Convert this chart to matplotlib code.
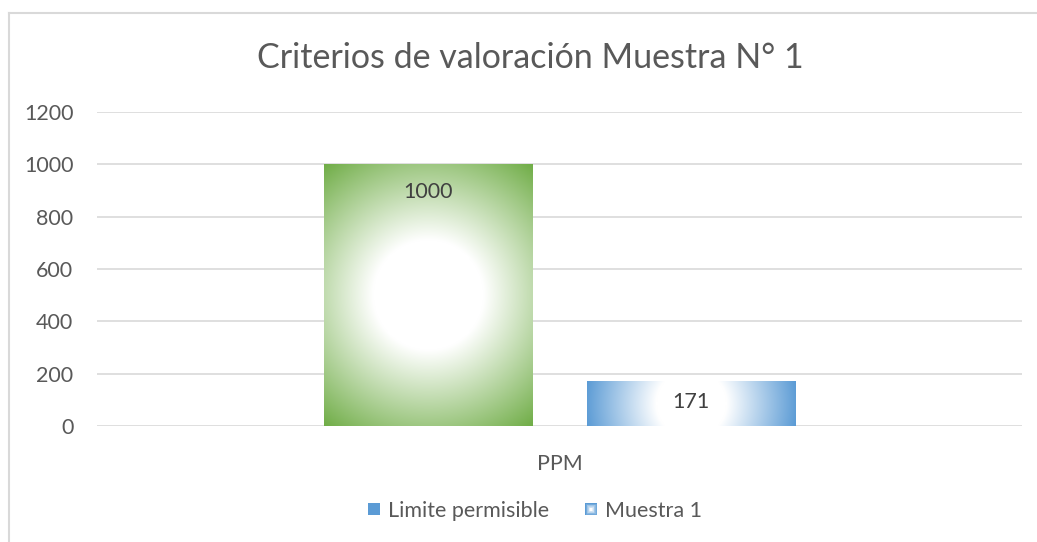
import numpy as np
import matplotlib.pyplot as plt
from matplotlib.patches import Rectangle
from matplotlib.legend_handler import HandlerBase
from matplotlib.lines import Line2D

categories = ["PPM"]
series_names = ["Limite permisible", "Muestra 1"]
limite = [1000]
muestra = [171]
yticks = [0, 200, 400, 600, 800, 1000, 1200]

green = np.array([0x70, 0xAD, 0x47]) / 255
blue = np.array([0x5B, 0x9B, 0xD5]) / 255

plt.rcParams['font.family'] = ['Lato', 'DejaVu Sans']
fs = 15.5

W, H = 1037, 542
fig = plt.figure(figsize=(W / 100, H / 100), dpi=100)
ax = fig.add_axes([97 / W, (H - 426) / H, (1022 - 97) / W, (426 - 112) / H])

x = np.arange(len(categories))
bw = 0.225
off = 0.1425
ax.set_xlim(-0.5, 0.5)
ax.set_ylim(0, 1200)
ax.set_yticks(yticks)
ax.set_xticks(x, categories)
ax.tick_params(axis='both', length=0, labelsize=fs, labelcolor='#595959')
ax.tick_params(axis='y', pad=17)
ax.tick_params(axis='x', pad=20)
ax.grid(axis='y', color='#D9D9D9', linewidth=1.2)
ax.set_axisbelow(True)
for s in ax.spines.values():
    s.set_visible(False)

bars1 = ax.bar(x - off, limite, bw, color='none', zorder=2)
bars2 = ax.bar(x + off, muestra, bw, color='none', zorder=2)


def radial_fill(bar, col):
    x0, y0 = bar.get_x(), bar.get_y()
    x1, y1 = x0 + bar.get_width(), y0 + bar.get_height()
    p0 = ax.transData.transform((x0, y0))
    p1 = ax.transData.transform((x1, y1))
    wp, hp = abs(p1[0] - p0[0]), abs(p1[1] - p0[1])
    nx, ny = 200, max(int(200 * hp / wp), 10)
    gx = (np.linspace(0, 1, nx) - 0.5) * wp
    gy = (np.linspace(0, 1, ny) - 0.5) * hp
    XX, YY = np.meshgrid(gx, gy)
    d = np.sqrt(XX ** 2 + YY ** 2) / np.hypot(wp / 2, hp / 2)
    t = np.clip((d - 0.33) / 0.67, 0, 1)[..., None]
    img = (1 - t) * np.ones(3) + t * col
    ax.imshow(img, extent=(x0, x1, y0, y1), aspect='auto', zorder=2,
              interpolation='bilinear', origin='lower')


for b in bars1:
    radial_fill(b, green)
for b in bars2:
    radial_fill(b, blue)
ax.set_xlim(-0.5, 0.5)
ax.set_ylim(0, 1200)

for b, v in zip(bars1, limite):
    ax.annotate(str(v), (b.get_x() + b.get_width() / 2, v), xytext=(0, -20),
                textcoords='offset points', ha='center', va='center',
                fontsize=fs, color='#404040', zorder=3)
for b, v in zip(bars2, muestra):
    ax.annotate(str(v), (b.get_x() + b.get_width() / 2, v), xytext=(0, -15),
                textcoords='offset points', ha='center', va='center',
                fontsize=fs, color='#404040', zorder=3)

fig.text(530 / W, (H - 58) / H, "Criterios de valoración Muestra N° 1",
         ha='center', va='center', fontsize=24.5, color='#595959')

# chart border (top and left only visible)
fig.add_artist(Line2D([8.5 / W, 1], [(H - 12.5) / H] * 2, color='#D9D9D9', lw=1.5))
fig.add_artist(Line2D([8.5 / W] * 2, [0, (H - 12.5) / H], color='#D9D9D9', lw=1.5))


class GradHandler(HandlerBase):
    def create_artists(self, legend, orig, xd, yd, width, height, fontsize, trans):
        s = min(width, height)
        arts = []
        n = 8
        for i in range(n):
            f = i / (n - 1)
            c = (1 - f) * blue + f * np.ones(3)
            ss = s * (1 - 0.8 * f)
            r = Rectangle((-xd + (width - ss) / 2, -yd + (height - ss) / 2), ss, ss,
                          facecolor=c, edgecolor='none', transform=trans)
            arts.append(r)
        return arts


class SolidHandler(HandlerBase):
    def create_artists(self, legend, orig, xd, yd, width, height, fontsize, trans):
        s = min(width, height)
        return [Rectangle((-xd + (width - s) / 2, -yd + (height - s) / 2), s, s,
                          facecolor=blue, edgecolor='none', transform=trans)]


h1 = Rectangle((0, 0), 1, 1)
h2 = Rectangle((0, 0), 1, 1)
leg = fig.legend([h1, h2], series_names, loc='center', bbox_to_anchor=(535 / W, (H - 511) / H),
                 ncol=2, frameon=False, fontsize=fs, labelcolor='#595959',
                 handler_map={h1: SolidHandler(), h2: GradHandler()},
                 handlelength=0.55, handleheight=0.55, handletextpad=0.35, columnspacing=1.7)

fig.savefig("out.png", dpi=100)
